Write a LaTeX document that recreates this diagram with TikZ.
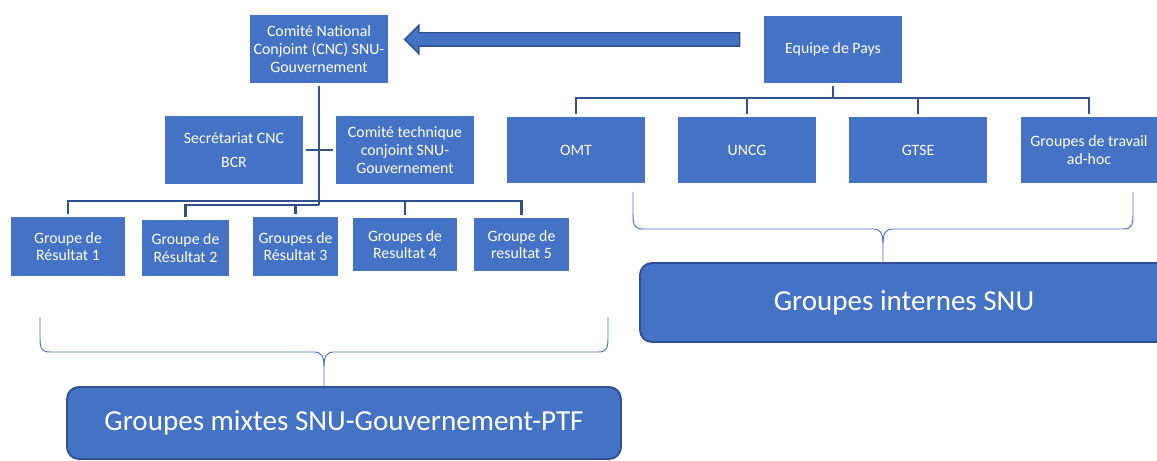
\documentclass[tikz,border=0pt]{standalone}
\usepackage{fontspec}
\setmainfont{Carlito}
\usetikzlibrary{shapes.arrows}

\definecolor{boxblue}{HTML}{4472C4}
\definecolor{lineblue}{HTML}{2F528F}

\tikzset{
  orgbox/.style={fill=boxblue, text=white, align=center, inner sep=0pt, outer sep=0.1cm,
    minimum width=4.14cm, minimum height=2.04cm, font=\fontsize{13.5}{15}\selectfont},
  bigbox/.style={fill=boxblue, draw=lineblue, line width=1.6pt, rounded corners=0.36cm,
    text=white, inner sep=0pt, font=\fontsize{24.8}{28}\selectfont},
  orgline/.style={draw=lineblue, line width=2.4pt},
  brace/.style={draw=boxblue, line width=0.8pt}
}

\begin{document}
\begin{tikzpicture}[x=0.03cm, y=-0.03cm]
  \clip (0,0) rectangle (1157,461);
  \fill[white] (0,0) rectangle (1157,461);

  % left side
  \node[orgbox] (cnc) at (319,49) {Comité National\\Conjoint (CNC) SNU-\\Gouvernement};
  \node[orgbox] (secr) at (234,150) {Secrétariat CNC\\[5.5pt]BCR};
  \node[orgbox] (ctech) at (405,150) {Comité technique\\conjoint SNU-\\Gouvernement};
  \node[orgbox, minimum width=3.42cm, minimum height=1.77cm] (g1) at (68,246.5) {Groupe de\\Résultat 1};
  \node[orgbox, minimum width=2.61cm, minimum height=1.68cm] (g2) at (185.5,248) {Groupe de\\Résultat 2};
  \node[orgbox, minimum width=2.55cm, minimum height=1.77cm] (g3) at (295.5,246.5) {Groupes de\\Résultat 3};
  \node[orgbox, minimum width=3.12cm, minimum height=1.59cm] (g4) at (405,244.5) {Groupes de\\Resultat 4};
  \node[orgbox, minimum width=2.85cm, minimum height=1.59cm] (g5) at (521.5,244.5) {Groupe de\\resultat 5};

  \coordinate (bus) at (319,201);
  \coordinate (bus2) at (319,205);
  \draw[orgline] (cnc.south) -- (bus2);
  \draw[orgline] (secr.east) -- (ctech.west);
  \draw[orgline] (g1.north) |- (bus) -| (g5.north);
  \draw[orgline] (g2.north) |- (bus2);
  \draw[orgline] (g3.north) -- (g3.north |- bus2);
  \draw[orgline] (g4.north) -- (g4.north |- bus);

  % right side
  \node[orgbox, minimum height=2.01cm] (equipe) at (833,49.5) {Equipe de Pays};
  \node[orgbox, minimum height=1.98cm] (omt) at (576,150) {OMT};
  \node[orgbox, minimum height=1.98cm] (uncg) at (747,150) {UNCG};
  \node[orgbox, minimum height=1.98cm] (gtse) at (918,150) {GTSE};
  \node[orgbox, minimum width=4.08cm, minimum height=1.98cm] (adhoc) at (1089,150) {Groupes de travail\\ad-hoc};

  \coordinate (rbus) at (833,98);
  \draw[orgline] (equipe.south) -- (rbus);
  \draw[orgline] (omt.north) |- (rbus) -| (adhoc.north);
  \draw[orgline] (uncg.north) -- (uncg.north |- rbus);
  \draw[orgline] (gtse.north) -- (gtse.north |- rbus);

  \node[single arrow, shape border rotate=180, fill=boxblue, draw=lineblue, line width=1.2pt,
    minimum width=0.81cm, single arrow head extend=0.225cm, minimum height=10.05cm,
    inner xsep=0pt, inner ysep=0.18cm] (arr) at (575.5,39.5) {};

  % groupes
  \node[bigbox, minimum width=16.62cm, minimum height=2.16cm] (mixed) at (344,423) {Groupes mixtes SNU-Gouvernement-PTF};
  \node[bigbox, minimum width=15.84cm, minimum height=2.37cm] (snu) at (904,302.5) {Groupes internes SNU};

  \coordinate (ltip) at (324,352);
  \draw[brace] (40,317) -- (40,338) .. controls (40,349) and (42,352) .. (50,352) -- (314,352)
    .. controls (321,352) and (324,356) .. (324,366) -- (ltip |- mixed.north);
  \draw[brace] (608,317) -- (608,338) .. controls (608,349) and (606,352) .. (598,352) -- (334,352)
    .. controls (327,352) and (324,356) .. (324,366);

  \coordinate (rtip) at (883,229);
  \draw[brace] (633,192) -- (633,214) .. controls (633,226) and (635,229) .. (643,229) -- (873,229)
    .. controls (880,229) and (883,233) .. (883,243) -- (rtip |- snu.north);
  \draw[brace] (1133,192) -- (1133,214) .. controls (1133,226) and (1131,229) .. (1123,229) -- (893,229)
    .. controls (886,229) and (883,233) .. (883,243);
\end{tikzpicture}
\end{document}
